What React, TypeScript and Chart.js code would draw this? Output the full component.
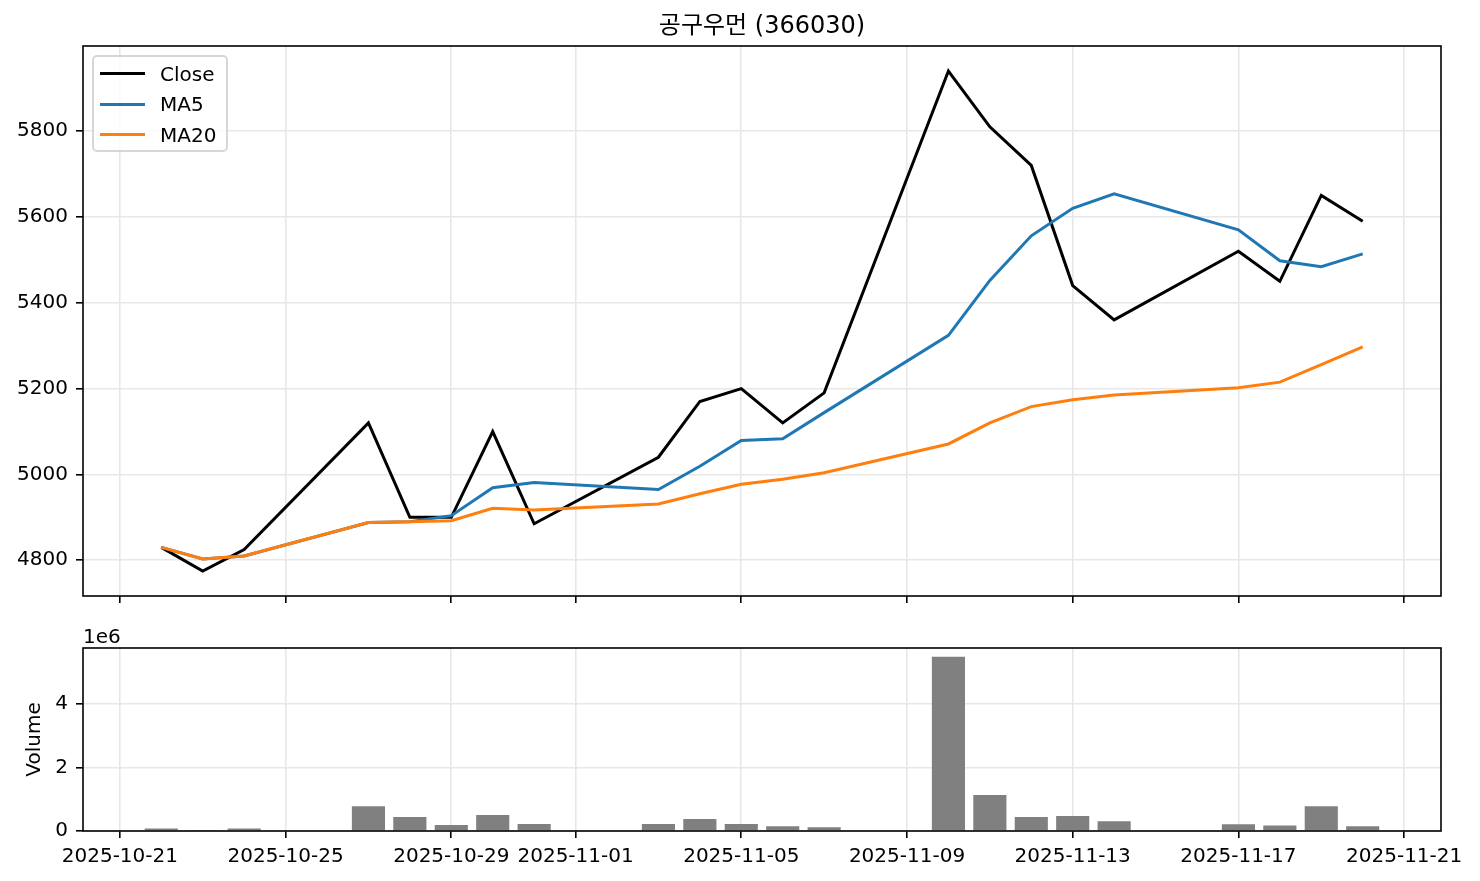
import React, { useEffect, useRef } from "react";
import { Chart, registerables } from "chart.js";

Chart.register(...registerables);

// ---------------- data ----------------
const chartTitle = "공구우먼 (366030)";
const dates = [
  "2025-10-22", "2025-10-23", "2025-10-24", "2025-10-27", "2025-10-28",
  "2025-10-29", "2025-10-30", "2025-10-31", "2025-11-03", "2025-11-04",
  "2025-11-05", "2025-11-06", "2025-11-07", "2025-11-10", "2025-11-11",
  "2025-11-12", "2025-11-13", "2025-11-14", "2025-11-17", "2025-11-18",
  "2025-11-19", "2025-11-20",
];
const closeValues = [
  4830, 4775, 4825, 5120, 4900, 4900, 5100, 4885, 5040, 5170, 5200,
  5120, 5190, 5940, 5810, 5720, 5440, 5360, 5520, 5450, 5650, 5590,
];
const ma5Values = [
  4830, 4803, 4810, 4888, 4890, 4904, 4969, 4981, 4965, 5019, 5079,
  5083, 5144, 5324, 5452, 5556, 5620, 5654, 5570, 5498, 5484, 5514,
];
const ma20Values = [
  4830, 4803, 4810, 4888, 4890, 4892, 4921, 4917, 4931, 4955, 4977,
  4989, 5004, 5071, 5120, 5158, 5174, 5185, 5202, 5215, 5256, 5297,
];
const volumeValues = [
  80000, 30000, 80000, 780000, 440000, 190000, 500000, 220000, 220000, 380000, 220000,
  150000, 120000, 5480000, 1130000, 440000, 470000, 310000, 210000, 170000, 780000, 150000,
];
const dateTickLabels = [
  "2025-10-21", "2025-10-25", "2025-10-29", "2025-11-01", "2025-11-05",
  "2025-11-09", "2025-11-13", "2025-11-17", "2025-11-21",
];
const priceTicks = [4800, 5000, 5200, 5400, 5600, 5800];
const volumeTicks = [0, 2000000, 4000000];
const seriesLabels = ["Close", "MA5", "MA20"];
const seriesColors = ["#000000", "#1f77b4", "#ff7f0e"];

// ---------------- helpers ----------------
const DAY0 = Date.parse("2025-10-21T00:00:00Z");
const toDay = (s: string) => (Date.parse(s + "T00:00:00Z") - DAY0) / 86400000;
const xDays = dates.map(toDay);
const tickDays = dateTickLabels.map(toDay);
const X_MIN = -0.89;
const X_MAX = 31.89;
const Y_MIN = 4716.75;
const Y_MAX = 5998.25;
const V_MAX = 5754000;

const FONT = '"DejaVu Sans", "Noto Sans CJK KR", sans-serif';
const GRID = "#e7e7e7";

const framePlugin = {
  id: "frame",
  afterDatasetsDraw(chart: any) {
    const { ctx, chartArea } = chart;
    ctx.save();
    ctx.strokeStyle = "#000";
    ctx.lineWidth = 1.6;
    ctx.strokeRect(
      chartArea.left,
      chartArea.top,
      chartArea.right - chartArea.left,
      chartArea.bottom - chartArea.top
    );
    ctx.restore();
  },
};

const offsetTextPlugin = {
  id: "offsetText",
  afterDraw(chart: any) {
    const { ctx, chartArea } = chart;
    ctx.save();
    ctx.font = `20px ${FONT}`;
    ctx.fillStyle = "#000";
    ctx.textAlign = "left";
    ctx.textBaseline = "alphabetic";
    ctx.fillText("1e6", chartArea.left, chartArea.top - 5);
    ctx.restore();
  },
};

const xScaleBase = (showLabels: boolean, height: number) => ({
  type: "linear" as const,
  min: X_MIN,
  max: X_MAX,
  offset: false,
  afterBuildTicks: (s: any) => {
    s.ticks = tickDays.map((v) => ({ value: v }));
  },
  afterFit: (s: any) => {
    s.height = height;
  },
  ticks: {
    display: showLabels,
    autoSkip: false,
    maxRotation: 0,
    minRotation: 0,
    padding: 7,
    color: "#000",
    font: { family: FONT, size: 20 },
    callback: (v: any) => {
      const i = tickDays.indexOf(Number(v));
      return i >= 0 ? dateTickLabels[i] : "";
    },
  },
  grid: {
    offset: false,
    color: GRID,
    lineWidth: 1.6,
    drawTicks: true,
    tickLength: 7,
    tickColor: "#000",
    tickWidth: 1.6,
  },
  border: { display: false },
});

export default function App() {
  const topRef = useRef<HTMLCanvasElement | null>(null);
  const botRef = useRef<HTMLCanvasElement | null>(null);

  useEffect(() => {
    const lineSets = [closeValues, ma5Values, ma20Values].map((vals, k) => ({
      label: seriesLabels[k],
      data: vals.map((y, i) => ({ x: xDays[i], y })),
      borderColor: seriesColors[k],
      backgroundColor: seriesColors[k],
      borderWidth: 3,
      pointRadius: 0,
      tension: 0,
      fill: false,
    }));

    const top = new Chart(topRef.current as HTMLCanvasElement, {
      type: "line",
      data: { datasets: lineSets.reverse() as any },
      options: {
        animation: false,
        responsive: false,
        maintainAspectRatio: false,
        layout: { padding: { left: 0, right: 39, top: 0, bottom: 0 } },
        plugins: {
          legend: { display: false },
          tooltip: { enabled: false },
          title: {
            display: true,
            text: chartTitle,
            fullSize: false,
            color: "#000",
            font: { family: FONT, size: 24, weight: "normal" as any },
            padding: { top: 12.6, bottom: 4.6 },
          },
        },
        scales: {
          x: xScaleBase(false, 24) as any,
          y: {
            min: Y_MIN,
            max: Y_MAX,
            afterBuildTicks: (s: any) => {
              s.ticks = priceTicks.map((v) => ({ value: v }));
            },
            afterFit: (s: any) => {
              s.width = 83;
            },
            ticks: {
              color: "#000",
              padding: 8,
              font: { family: FONT, size: 20 },
              callback: (v: any) => String(v),
            },
            grid: {
              color: GRID,
              lineWidth: 1.6,
              tickLength: 7,
              tickColor: "#000",
              tickWidth: 1.6,
            },
            border: { display: false },
          },
        },
      },
      plugins: [framePlugin],
    });

    const bot = new Chart(botRef.current as HTMLCanvasElement, {
      type: "bar",
      data: {
        datasets: [
          {
            label: "Volume",
            data: volumeValues.map((y, i) => ({ x: xDays[i], y })),
            backgroundColor: "#808080",
            borderWidth: 0,
            categoryPercentage: 1.0,
            barPercentage: 0.8,
          },
        ] as any,
      },
      options: {
        animation: false,
        responsive: false,
        maintainAspectRatio: false,
        layout: { padding: { left: 0, right: 39, top: 28, bottom: 0 } },
        plugins: {
          legend: { display: false },
          tooltip: { enabled: false },
        },
        scales: {
          x: xScaleBase(true, 50) as any,
          y: {
            min: 0,
            max: V_MAX,
            afterBuildTicks: (s: any) => {
              s.ticks = volumeTicks.map((v) => ({ value: v }));
            },
            afterFit: (s: any) => {
              s.width = 83;
            },
            title: {
              display: true,
              text: "Volume",
              color: "#000",
              font: { family: FONT, size: 20 },
              padding: { top: 23, bottom: 0 },
            },
            ticks: {
              color: "#000",
              padding: 8,
              font: { family: FONT, size: 20 },
              callback: (v: any) => String(Number(v) / 1000000),
            },
            grid: {
              color: GRID,
              lineWidth: 1.6,
              tickLength: 7,
              tickColor: "#000",
              tickWidth: 1.6,
            },
            border: { display: false },
          },
        },
      },
      plugins: [framePlugin, offsetTextPlugin],
    });

    return () => {
      top.destroy();
      bot.destroy();
    };
  }, []);

  return (
    <div
      style={{
        position: "absolute",
        left: 0,
        top: 0,
        width: 1480,
        height: 881,
        background: "#fff",
        overflow: "hidden",
      }}
    >
      <canvas
        ref={topRef}
        width={1480}
        height={620}
        style={{ position: "absolute", left: 0, top: 0, width: 1480, height: 620 }}
      />
      <canvas
        ref={botRef}
        width={1480}
        height={261}
        style={{ position: "absolute", left: 0, top: 620, width: 1480, height: 261 }}
      />
      <div
        style={{
          position: "absolute",
          left: 92,
          top: 55,
          width: 136,
          height: 97,
          boxSizing: "border-box",
          border: "2px solid #d6d6d6",
          borderRadius: 5,
          background: "rgba(255,255,255,0.8)",
          fontFamily: FONT,
          fontSize: 20,
          color: "#000",
        }}
      >
        {seriesLabels.map((lab, i) => (
          <div
            key={lab}
            style={{
              position: "absolute",
              left: 0,
              top: 2.5 + i * 30.5,
              height: 28,
              width: "100%",
            }}
          >
            <div
              style={{
                position: "absolute",
                left: 6,
                top: 12.5,
                width: 45,
                height: 3,
                background: seriesColors[i],
              }}
            />
            <span
              style={{
                position: "absolute",
                left: 66,
                top: 0,
                lineHeight: "28px",
                whiteSpace: "nowrap",
              }}
            >
              {lab}
            </span>
          </div>
        ))}
      </div>
    </div>
  );
}
